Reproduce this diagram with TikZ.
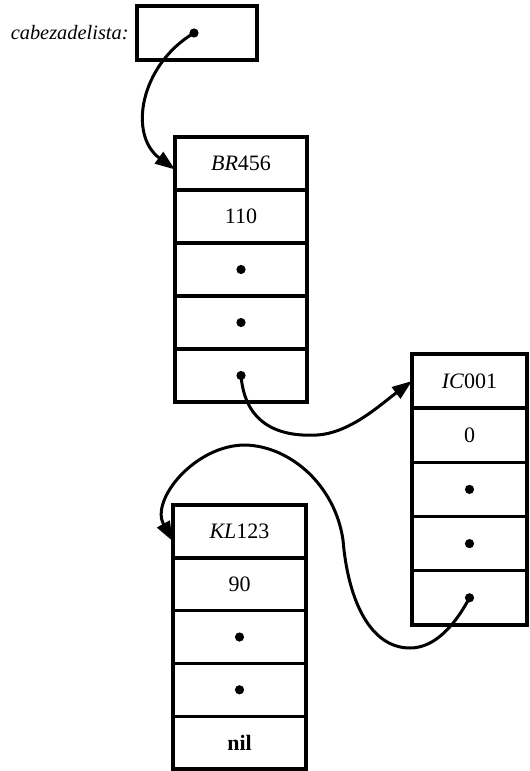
\documentclass[tikz,border=0pt]{standalone}
\usepackage{fontspec}
\setmainfont{Liberation Serif}
\usetikzlibrary{positioning,arrows.meta}

\begin{document}
\begin{tikzpicture}[
  x=0.5pt, y=-0.5pt,
  every node/.style={font=\fontsize{11}{13}\selectfont},
  lbl/.style={inner sep=1pt, font=\fontsize{10.2}{12}\selectfont\itshape},
  cell/.style={draw, line width=1.7pt, outer sep=0pt, inner sep=0pt},
  headcell/.style={cell, minimum width=60pt, minimum height=27pt},
  brcell/.style={cell, minimum width=66pt, minimum height=26.5pt},
  iccell/.style={cell, minimum width=57.5pt, minimum height=27.1pt},
  klcell/.style={cell, minimum width=66.5pt, minimum height=26.4pt},
  dot/.style={circle, fill=black, inner sep=0pt, minimum size=4.6pt},
  link/.style={line width=1.5pt, line cap=round, -{Triangle[length=10pt, width=7pt]}}
]
\useasboundingbox (0,0) rectangle (530,771);

% --- list head ---
\node[headcell] (head) at (197,33) {};
\node[lbl, left=3pt of head] (headlbl) {cabezadelista:};
\node[dot] (headp) at (194,33) {};

% --- first record ---
\node[brcell] (br1) at (241,163.5) {\textit{BR}456};
\node[brcell, below=0pt of br1] (br2) {110};
\node[brcell, below=0pt of br2] (br3) {};
\node[brcell, below=0pt of br3] (br4) {};
\node[brcell, below=0pt of br4] (br5) {};
\node[dot] (brp3) at (br3) {};
\node[dot] (brp4) at (br4) {};
\node[dot] (brp5) at (br5) {};

% --- second record ---
\node[iccell] (ic1) at (469.5,381) {\textit{IC}001};
\node[iccell, below=0pt of ic1] (ic2) {0};
\node[iccell, below=0pt of ic2] (ic3) {};
\node[iccell, below=0pt of ic3] (ic4) {};
\node[iccell, below=0pt of ic4] (ic5) {};
\node[dot] (icp3) at (ic3) {};
\node[dot] (icp4) at (ic4) {};
\node[dot] (icp5) at (ic5) {};

% --- third record ---
\node[klcell] (kl1) at (239.5,531.4) {\textit{KL}123};
\node[klcell, below=0pt of kl1] (kl2) {90};
\node[klcell, below=0pt of kl2] (kl3) {};
\node[klcell, below=0pt of kl3] (kl4) {};
\node[klcell, below=0pt of kl4] (kl5) {\textbf{nil}};
\node[dot] (klp3) at (kl3) {};
\node[dot] (klp4) at (kl4) {};

% --- pointers ---
\draw[link] (headp.center) .. controls (140,65) and (128,135) .. ([yshift=-3pt]br1.west);
\draw[link] (brp5.center) .. controls (245,425) and (280,437) .. (317,435)
  .. controls (350,433) and (380,405) .. (ic1.west);
\draw[link] (icp5.center) .. controls (455,625) and (435,648) .. (410,648)
  .. controls (370,648) and (348,600) .. (343,540)
  .. controls (335,485) and (290,446) .. (245,445)
  .. controls (195,445) and (150,500) .. ([yshift=-5pt]kl1.west);

\end{tikzpicture}
\end{document}
